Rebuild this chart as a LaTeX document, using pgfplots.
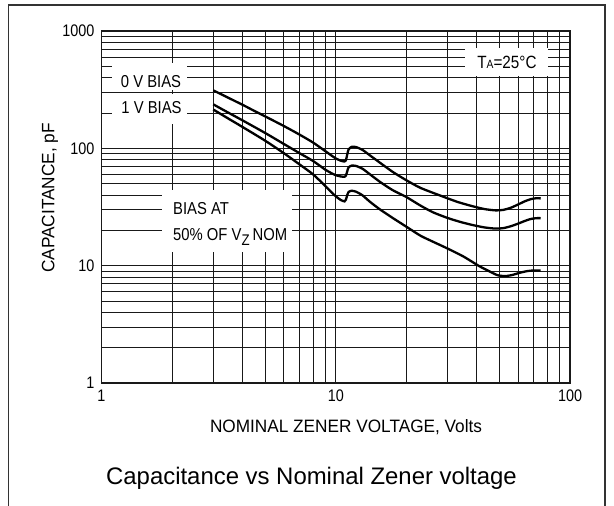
\documentclass[border=0pt]{standalone}
\usepackage{pgfplots}
\pgfplotsset{compat=1.18}
\usepackage{fontspec}
\setmainfont{Liberation Sans}
\newfontfamily\narrow{Liberation Sans}[FakeStretch=0.86]
\newfontfamily\semi{Liberation Sans}[FakeStretch=0.96]
\begin{document}
\begin{tikzpicture}[x=1bp,y=1bp]
\useasboundingbox (0,0) rectangle (614,506);
\draw[line width=1.4bp, black!80] (8.4,0) -- (8.4,501) -- (605,501) -- (605,0);
\begin{axis}[
  at={(101.5bp,123bp)}, anchor=south west,
  scale only axis, width=468.5bp, height=352bp,
  xmode=log, ymode=log, xmin=1, xmax=100, ymin=1, ymax=1000,
  grid=both,
  major grid style={black!90, line width=0.9bp},
  minor grid style={black!90, line width=0.9bp},
  axis line style={black!90, line width=1.8bp},
  major tick length=0pt, minor tick length=0pt,
  xtick={1,10,100}, xticklabels={1,10,100},
  ytick={1,10,100,1000}, yticklabels={1,10,100,1000},
  minor xtick={2,3,4,5,6,7,8,9,20,30,40,50,60,70,80,90},
  minor ytick={2,3,4,5,6,7,8,9,20,30,40,50,60,70,80,90,200,300,400,500,600,700,800,900},
  tick label style={font=\narrow\fontsize{16.8}{17}\selectfont, inner sep=0pt},
  yticklabel style={xshift=-7bp},
  xticklabel style={yshift=-7bp},
  clip=false,
]
% label boxes cut the grid
\fill[white] (rel axis cs:0.0224,0.832) rectangle (rel axis cs:0.1825,0.909);
\fill[white] (rel axis cs:0.0224,0.736) rectangle (rel axis cs:0.1825,0.821);
\fill[white] (rel axis cs:0.1291,0.372) rectangle (rel axis cs:0.4066,0.548);
\fill[white] (rel axis cs:0.7759,0.872) rectangle (rel axis cs:0.953,0.9517);
\node[font=\narrow\fontsize{17.3}{18}\selectfont, inner sep=0pt] at (rel axis cs:0.1057,0.856) {0 V BIAS};
\node[font=\narrow\fontsize{17.3}{18}\selectfont, inner sep=0pt] at (rel axis cs:0.1067,0.7827) {1 V BIAS};
\node[font=\narrow\fontsize{17.3}{18}\selectfont, inner sep=0pt, anchor=base west] at (rel axis cs:0.1526,0.480) {BIAS AT};
\node[font=\narrow\fontsize{17.3}{18}\selectfont, inner sep=0pt, anchor=base west] at (rel axis cs:0.1526,0.406) {50\% OF V\raisebox{-5bp}{\fontsize{15.5}{16}\selectfont Z}\,NOM};
\node[font=\narrow\fontsize{17.8}{18}\selectfont, inner sep=0pt] at (rel axis cs:0.8655,0.912) {T{\fontsize{12}{12}\selectfont A}=25°C};

\addplot[black, line width=2.3bp, smooth, tension=0.4] coordinates {
(3,312) (3.5,268) (4,235) (4.5,208) (5,187) (6,155) (7,131) (8,112) (9,95) (9.5,88) (10,82)
(10.5,78.5) (10.9,77.2) (11.05,79) (11.2,89) (11.35,98) (11.7,103) (12.2,102.5) (13,97) (14,87)
(15.5,75) (17.5,63) (20,53.5) (23,46) (28,39.5) (33,35) (37.5,32.5) (43,30.4) (48,29.6) (52,29.9)
(56,31.2) (60,33.2) (64,35.3) (68,36.9) (72,37.6) (75,37.4)
};
\addplot[black, line width=2.3bp, smooth, tension=0.4] coordinates {
(3,237) (3.5,200) (4,173) (5,135) (6,109) (7,91) (8,78) (9,66) (9.5,62) (10,59)
(10.5,57.6) (10.9,57.2) (11.05,58.5) (11.2,64) (11.35,69) (11.7,71.2) (12.2,70.8) (13,67) (14,60)
(15.5,51.5) (17.5,44) (20,38.5) (23,32.5) (26,28.5) (30,25.5) (34,23.6) (38,22.3) (43,21.2)
(48,20.7) (52,20.9) (56,21.7) (60,22.8) (64,24) (68,25) (72,25.4) (75,25.4)
};
\addplot[black, line width=2.3bp, smooth, tension=0.4] coordinates {
(3,214) (3.5,178) (4,152) (5,116) (6,91) (7,73) (8,60) (9,48) (9.5,43) (10,39)
(10.5,36.3) (10.9,35.3) (11.05,36.5) (11.2,40) (11.35,42.5) (11.7,43.5) (12.2,42.7) (13,39.8) (14,35)
(15.5,30) (17.5,25.5) (20,21.5) (23,18) (26,16) (30,14) (35,12) (41,9.9) (45,9) (49,8.3)
(53,8.15) (57,8.35) (61,8.7) (66,9.0) (70,9.1) (75,9.1)
};
\end{axis}
\node[rotate=90, font=\semi\fontsize{18}{18}\selectfont, inner sep=0pt] at (50,308) {CAPACITANCE, pF};
\node[anchor=base, font=\semi\fontsize{18}{18}\selectfont, inner sep=0pt] at (346,73.3) {NOMINAL ZENER VOLTAGE, Volts};
\node[anchor=base, font=\fontsize{24}{24}\selectfont, inner sep=0pt] at (311.5,21) {Capacitance vs Nominal Zener voltage};
\end{tikzpicture}
\end{document}
